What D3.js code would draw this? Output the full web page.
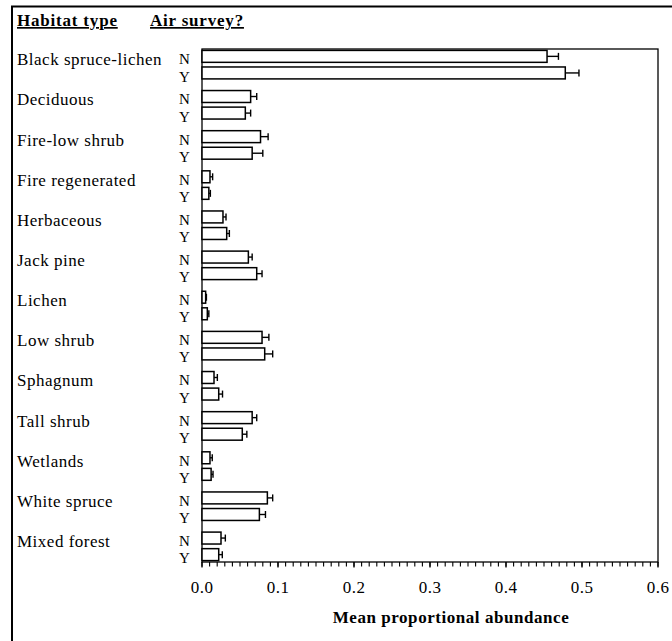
<!DOCTYPE html>
<html>
<head>
<meta charset="utf-8">
<script src="https://cdn.jsdelivr.net/npm/d3@7"></script>
<style>
  body { margin: 0; background: #fff; }
  svg text { font-family: "Liberation Serif", "Times New Roman", serif; fill: #000; }
</style>
</head>
<body>
<div id="chart"></div>
<script>
// values
const habitats = ['Black spruce-lichen', 'Deciduous', 'Fire-low shrub', 'Fire regenerated',
  'Herbaceous', 'Jack pine', 'Lichen', 'Low shrub', 'Sphagnum', 'Tall shrub',
  'Wetlands', 'White spruce', 'Mixed forest'];
const surveys = ['N', 'Y'];
const meanN = [0.454, 0.064, 0.077, 0.0105, 0.0276, 0.061, 0.0048, 0.079, 0.0158, 0.066, 0.0105, 0.086, 0.025];
const seN   = [0.015, 0.008, 0.010, 0.0035, 0.004, 0.005, 0.001, 0.009, 0.0044, 0.006, 0.003, 0.007, 0.0057];
const meanY = [0.478, 0.057, 0.066, 0.009, 0.0325, 0.072, 0.007, 0.0825, 0.022, 0.053, 0.012, 0.0755, 0.022];
const seY   = [0.018, 0.007, 0.014, 0.002, 0.0035, 0.007, 0.002, 0.0105, 0.005, 0.006, 0.0025, 0.008, 0.0047];
const xTicks = [0, 0.1, 0.2, 0.3, 0.4, 0.5, 0.6];

const W = 672, H = 641;
const PLOT = { LEFT: 202, RIGHT: 658, TOP: 49, BOTTOM: 562 };

const rows = [];
habitats.forEach((h, i) => {
  rows.push({ habitat: h, survey: 'N', mean: meanN[i], se: seN[i] });
  rows.push({ habitat: h, survey: 'Y', mean: meanY[i], se: seY[i] });
});

const svg = d3.select('#chart').append('svg')
  .attr('width', W)
  .attr('height', H);

// outer frame (runs off the right/bottom edge)
svg.append('rect')
  .attr('x', 12).attr('y', 6.5)
  .attr('width', 700).attr('height', 700)
  .attr('fill', 'none').attr('stroke', '#000').attr('stroke-width', 2);

const x = d3.scaleLinear().domain([0, 0.6]).range([PLOT.LEFT, PLOT.RIGHT]);
const y = d3.scaleBand().domain(habitats)
  .range([PLOT.TOP, PLOT.BOTTOM])
  .paddingInner(0.29).paddingOuter(0.035);
const ySub = d3.scaleBand().domain(surveys)
  .range([0, y.bandwidth()])
  .paddingInner(0.28);

// plot box
svg.append('rect')
  .attr('x', PLOT.LEFT).attr('y', PLOT.TOP)
  .attr('width', PLOT.RIGHT - PLOT.LEFT).attr('height', PLOT.BOTTOM - PLOT.TOP)
  .attr('fill', 'none').attr('stroke', '#000').attr('stroke-width', 1.3);

// headers
svg.append('text')
  .attr('x', 17).attr('y', 26)
  .attr('font-size', 17).attr('font-weight', 'bold')
  .attr('letter-spacing', 0.8)
  .style('text-decoration', 'underline')
  .text('Habitat type');
svg.append('text')
  .attr('x', 150).attr('y', 26)
  .attr('font-size', 17).attr('font-weight', 'bold')
  .attr('letter-spacing', 0.8)
  .style('text-decoration', 'underline')
  .text('Air survey?');

// bars
const bars = svg.append('g');
bars.selectAll('rect')
  .data(rows)
  .enter().append('rect')
  .attr('x', x(0))
  .attr('y', d => y(d.habitat) + ySub(d.survey))
  .attr('width', d => x(d.mean) - x(0))
  .attr('height', ySub.bandwidth())
  .attr('fill', '#fff')
  .attr('stroke', '#000')
  .attr('stroke-width', 1.5);

// error bars (upper side only)
const err = svg.append('g').attr('stroke', '#000').attr('stroke-width', 1.4);
rows.forEach(d => {
  const cy = y(d.habitat) + ySub(d.survey) + ySub.bandwidth() / 2;
  err.append('line')
    .attr('x1', x(d.mean)).attr('x2', x(d.mean + d.se))
    .attr('y1', cy).attr('y2', cy);
  err.append('line')
    .attr('x1', x(d.mean + d.se)).attr('x2', x(d.mean + d.se))
    .attr('y1', cy - 3.5).attr('y2', cy + 3.5);
});

// habitat labels
svg.append('g').selectAll('text')
  .data(habitats)
  .enter().append('text')
  .attr('x', 17)
  .attr('y', d => y(d) + ySub('N') + ySub.bandwidth() + 3)
  .attr('font-size', 17)
  .attr('letter-spacing', 0.5)
  .text(d => d);

// N / Y labels, stacked tightly as in the original
svg.append('g').selectAll('text')
  .data(rows)
  .enter().append('text')
  .attr('x', 184.5)
  .attr('y', d => y(d.habitat) + ySub(d.survey) + ySub.bandwidth() + (d.survey === 'N' ? 2 : 2.6))
  .attr('text-anchor', 'middle')
  .attr('font-size', 15)
  .text(d => d.survey);

// x axis with minor ticks
const axis = svg.append('g');
axis.selectAll('line.minor')
  .data(d3.range(0, 61).map(i => i / 100))
  .enter().append('line')
  .attr('class', 'minor')
  .attr('x1', d => x(d)).attr('x2', d => x(d))
  .attr('y1', PLOT.BOTTOM).attr('y2', PLOT.BOTTOM + 4.5)
  .attr('stroke', '#000').attr('stroke-width', 1.1);
axis.selectAll('line.major')
  .data(xTicks)
  .enter().append('line')
  .attr('class', 'major')
  .attr('x1', d => x(d)).attr('x2', d => x(d))
  .attr('y1', PLOT.BOTTOM).attr('y2', PLOT.BOTTOM + 5.5)
  .attr('stroke', '#000').attr('stroke-width', 1.3);
axis.selectAll('text')
  .data(xTicks)
  .enter().append('text')
  .attr('x', d => x(d))
  .attr('y', 593)
  .attr('text-anchor', 'middle')
  .attr('font-size', 17)
  .attr('letter-spacing', 0.5)
  .text(d => d3.format('.1f')(d));

svg.append('text')
  .attr('x', (PLOT.LEFT + PLOT.RIGHT) / 2 + 21)
  .attr('y', 623)
  .attr('text-anchor', 'middle')
  .attr('font-size', 17)
  .attr('font-weight', 'bold')
  .attr('letter-spacing', 0.55)
  .text('Mean proportional abundance');
</script>
</body>
</html>
